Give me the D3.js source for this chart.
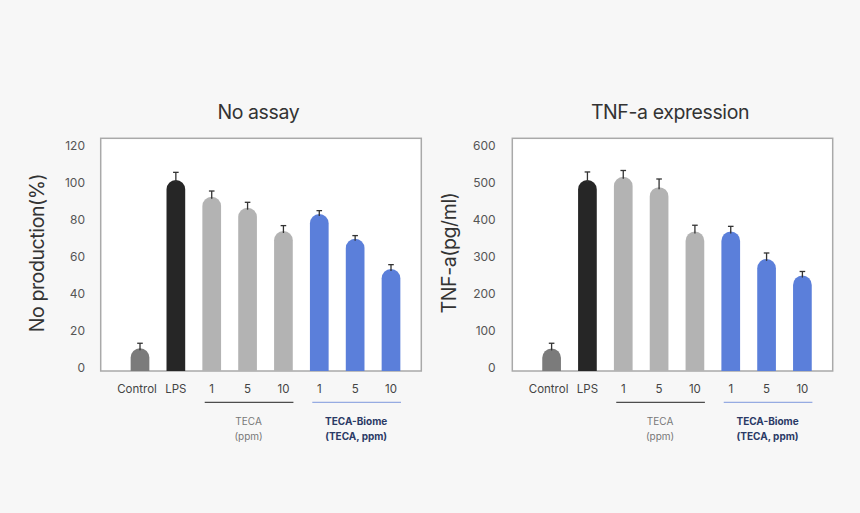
<!DOCTYPE html>
<html>
<head>
<meta charset="utf-8">
<script src="https://cdn.jsdelivr.net/npm/d3@7"></script>
<style>
  html, body { margin: 0; padding: 0; background: #f7f7f7; }
  svg { display: block; font-family: Inter, "Noto Sans", sans-serif; }
</style>
</head>
<body>
<svg id="chart" width="860" height="513"></svg>
<script>
// ---- data ----
const categories = ["Control", "LPS", "1", "5", "10", "1", "5", "10"];
const groups = ["control", "lps", "teca", "teca", "teca", "biome", "biome", "biome"];

const noValues = [10.5, 101.5, 92.4, 86.5, 73.9, 83.1, 69.7, 53.4];
const noErrors = [2.7, 4.1, 3.1, 2.9, 2.9, 1.8, 1.7, 2.3];
const noTicks = [0, 20, 40, 60, 80, 100, 120];

const tnfValues = [52, 507, 516, 488, 368, 368, 294, 249];
const tnfErrors = [14, 22, 17, 22, 17, 14, 16, 11];
const tnfTicks = [0, 100, 200, 300, 400, 500, 600];

const groupLabels = [
  { lines: ["TECA", "(ppm)"], from: 2, to: 4, kind: "teca" },
  { lines: ["TECA-Biome", "(TECA, ppm)"], from: 5, to: 7, kind: "biome" }
];

const colors = { control: "#7b7b7b", lps: "#262626", teca: "#b3b3b3", biome: "#5b7fda" };

const svg = d3.select("#chart");

function drawPanel(cfg) {
  const { left, right, top, bottom, yMax, yMin, values, errors, ticks, title, yTitle, titleX, yTitleX, tickX } = cfg;
  const g = svg.append("g");

  // plot box
  g.append("rect")
    .attr("x", left).attr("y", top)
    .attr("width", right - left).attr("height", bottom - top)
    .attr("fill", "#ffffff")
    .attr("stroke", "#a9a9a9").attr("stroke-width", 1.5);

  const x = d3.scalePoint().domain(d3.range(categories.length))
    .range([left + 39.3, right - 30.3]);
  const y = d3.scaleLinear().domain([yMin, yMax]).range([bottom, 145.7]);

  const bw = 18.7, r = bw / 2;

  // bars with rounded tops
  g.selectAll("path.bar").data(values).join("path")
    .attr("class", "bar")
    .attr("fill", (d, i) => colors[groups[i]])
    .attr("d", (d, i) => {
      const cx = x(i), x0 = cx - r, x1 = cx + r, t = y(d), b = y(yMin);
      return `M${x0},${b} L${x0},${t + r} A${r},${r} 0 0 1 ${x1},${t + r} L${x1},${b} Z`;
    });

  // error bars
  const eg = g.selectAll("g.err").data(values).join("g").attr("class", "err");
  eg.append("line")
    .attr("x1", (d, i) => x(i)).attr("x2", (d, i) => x(i))
    .attr("y1", (d) => y(d) + 2).attr("y2", (d, i) => y(d + errors[i]))
    .attr("stroke", "#333").attr("stroke-width", 1.3);
  eg.append("line")
    .attr("x1", (d, i) => x(i) - 2.8).attr("x2", (d, i) => x(i) + 2.8)
    .attr("y1", (d, i) => y(d + errors[i])).attr("y2", (d, i) => y(d + errors[i]))
    .attr("stroke", "#333").attr("stroke-width", 1.3);

  // y tick labels
  g.selectAll("text.ytick").data(ticks).join("text")
    .attr("class", "ytick")
    .attr("x", tickX).attr("y", (d) => y(d))
    .attr("text-anchor", "end").attr("dominant-baseline", "central")
    .attr("font-size", 12).attr("fill", "#555")
    .text((d) => d);

  // x category labels
  g.selectAll("text.xlab").data(categories).join("text")
    .attr("class", "xlab")
    .attr("x", (d, i) => x(i) - (i === 0 ? 3 : 0)).attr("y", 389)
    .attr("text-anchor", "middle").attr("dominant-baseline", "central")
    .attr("font-size", 11.5).attr("fill", "#444")
    .text((d) => d);

  // group brackets and labels
  groupLabels.forEach((gl) => {
    const x0 = x(gl.from) - 7, x1 = x(gl.to) + 10;
    g.append("line")
      .attr("x1", x0).attr("x2", x1).attr("y1", 402.3).attr("y2", 402.3)
      .attr("stroke", gl.kind === "teca" ? "#222" : "#7d98dc").attr("stroke-width", 1);
    const cxl = (x(gl.from) + x(gl.to)) / 2 + 1;
    gl.lines.forEach((ln, k) => {
      g.append("text")
        .attr("x", cxl).attr("y", 420.7 + k * 15)
        .attr("text-anchor", "middle").attr("dominant-baseline", "central")
        .attr("font-size", 10)
        .attr("font-weight", gl.kind === "biome" ? 700 : 400)
        .attr("fill", gl.kind === "biome" ? "#2b3a66" : "#777")
        .text(ln);
    });
  });

  // title
  g.append("text")
    .attr("x", titleX).attr("y", 111.5)
    .attr("text-anchor", "middle").attr("dominant-baseline", "central")
    .attr("font-size", 19.5).attr("fill", "#333").attr("letter-spacing", -0.4)
    .text(title);

  // y axis title
  g.append("text")
    .attr("transform", `translate(${yTitleX},253) rotate(-90)`)
    .attr("text-anchor", "middle").attr("dominant-baseline", "central")
    .attr("font-size", 19.5).attr("fill", "#333").attr("letter-spacing", -0.4)
    .text(yTitle);
}

drawPanel({
  left: 100.7, right: 421.3, top: 138.3, bottom: 371,
  yMin: -1.8, yMax: 120, values: noValues, errors: noErrors, ticks: noTicks,
  title: "No assay", yTitle: "No production(%)",
  titleX: 258.3, yTitleX: 37, tickX: 85
});

drawPanel({
  left: 512.3, right: 832.7, top: 138.3, bottom: 371,
  yMin: -9, yMax: 600, values: tnfValues, errors: tnfErrors, ticks: tnfTicks,
  title: "TNF-a expression", yTitle: "TNF-a(pg/ml)",
  titleX: 670, yTitleX: 448.5, tickX: 495.7
});
</script>
</body>
</html>
